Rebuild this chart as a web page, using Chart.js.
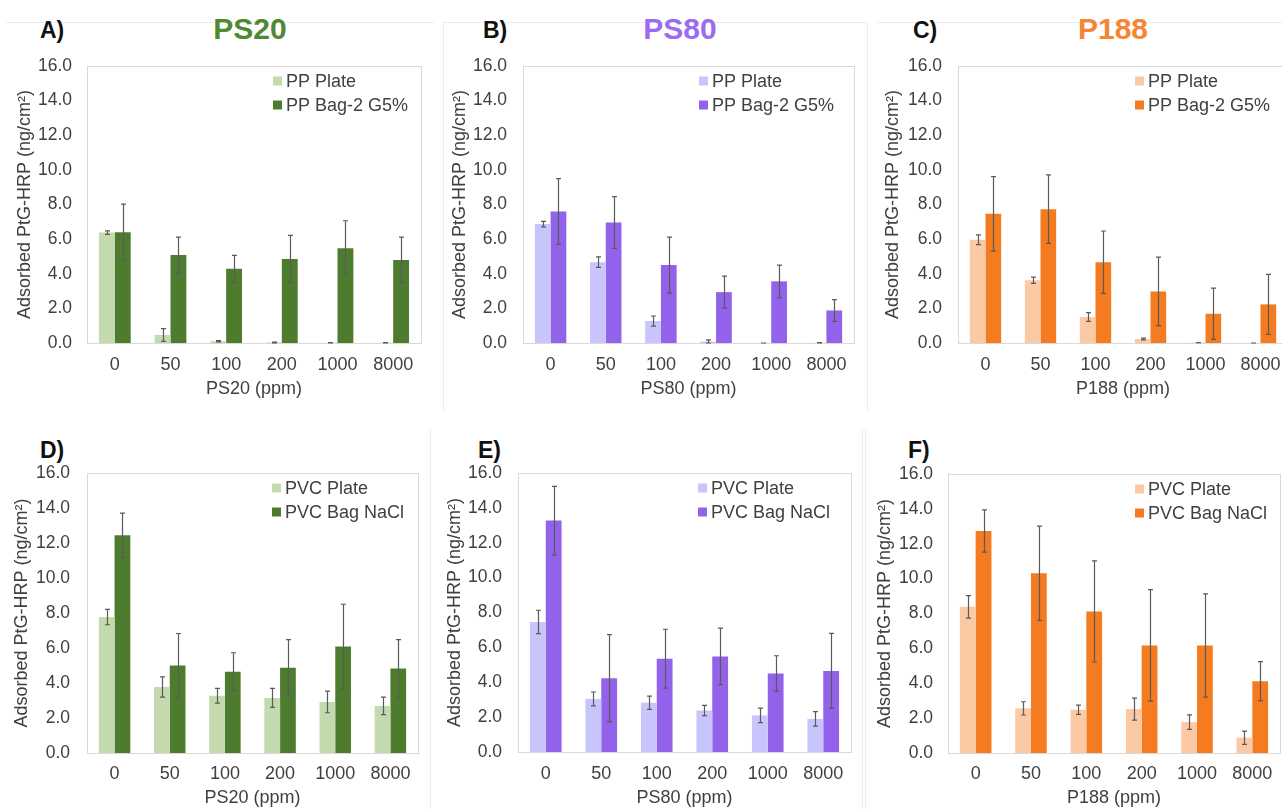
<!DOCTYPE html>
<html>
<head>
<meta charset="utf-8">
<script src="https://cdn.jsdelivr.net/npm/chart.js@4.4.1/dist/chart.umd.min.js"></script>
<style>
  html, body { margin: 0; padding: 0; background: #fff; }
  body { width: 1282px; height: 809px; position: relative; overflow: hidden; font-family: "Liberation Sans", Arial, sans-serif; }
  .cv { position: absolute; }
  .title { position: absolute; font-weight: bold; font-size: 30px; transform: translate(-50%, -50%); white-space: nowrap; }
  .tag { position: absolute; font-weight: bold; font-size: 23px; color: #111; transform: translateY(-50%); }
  .line { position: absolute; background: #ececec; }
</style>
</head>
<body>
<div class="line" style="left:6px;top:22px;width:428px;height:1px"></div>
<div class="line" style="left:443px;top:22px;width:1px;height:388px"></div>
<div class="line" style="left:443px;top:22px;width:424px;height:1px"></div>
<div class="line" style="left:867px;top:22px;width:1px;height:388px"></div>
<div class="line" style="left:877px;top:22px;width:405px;height:1px"></div>
<div class="line" style="left:430px;top:430px;width:1px;height:379px"></div>
<div class="line" style="left:862px;top:430px;width:1px;height:379px"></div>
<div class="line" style="left:865px;top:430px;width:1px;height:379px"></div>

<div class="tag" style="left:40px;top:30px">A)</div>
<div class="tag" style="left:483px;top:30px">B)</div>
<div class="tag" style="left:913px;top:30px">C)</div>
<div class="tag" style="left:40px;top:450px">D)</div>
<div class="tag" style="left:478px;top:450px">E)</div>
<div class="tag" style="left:908px;top:450px">F)</div>
<div class="title" style="left:250px;top:29px;color:#4f8a32">PS20</div>
<div class="title" style="left:680px;top:29px;color:#9b6cf0">PS80</div>
<div class="title" style="left:1113px;top:29px;color:#f58634">P188</div>

<canvas id="chartA" class="cv"></canvas>
<canvas id="chartB" class="cv"></canvas>
<canvas id="chartC" class="cv"></canvas>
<canvas id="chartD" class="cv"></canvas>
<canvas id="chartE" class="cv"></canvas>
<canvas id="chartF" class="cv"></canvas>

<script>
// surfactant concentrations (ppm)
const doses = ['0', '50', '100', '200', '1000', '8000'];
const yTicks = [0, 2, 4, 6, 8, 10, 12, 14, 16];

// PP, PS20
const ppPlatePS20 = [6.38, 0.46, 0.10, 0.03, 0.01, 0.01];
const ppPlatePS20Err = [0.10, 0.37, 0.04, 0.02, 0.01, 0.01];
const ppBagPS20 = [6.40, 5.08, 4.29, 4.85, 5.48, 4.79];
const ppBagPS20Err = [1.62, 1.04, 0.77, 1.37, 1.58, 1.33];

// PP, PS80
const ppPlatePS80 = [6.87, 4.67, 1.27, 0.08, 0.00, 0.01];
const ppPlatePS80Err = [0.16, 0.30, 0.29, 0.10, 0.00, 0.01];
const ppBagPS80 = [7.60, 6.96, 4.50, 2.94, 3.56, 1.88];
const ppBagPS80Err = [1.90, 1.50, 1.62, 0.92, 0.94, 0.63];

// PP, P188
const ppPlateP188 = [5.96, 3.62, 1.50, 0.23, 0.02, 0.00];
const ppPlateP188Err = [0.28, 0.18, 0.25, 0.05, 0.00, 0.00];
const ppBagP188 = [7.46, 7.73, 4.67, 2.98, 1.69, 2.23];
const ppBagP188Err = [2.15, 1.98, 1.80, 1.98, 1.48, 1.73];

// PVC, PS20
const pvcPlatePS20 = [7.77, 3.77, 3.27, 3.15, 2.92, 2.69];
const pvcPlatePS20Err = [0.44, 0.58, 0.42, 0.54, 0.62, 0.50];
const pvcBagPS20 = [12.44, 5.00, 4.65, 4.87, 6.08, 4.83];
const pvcBagPS20Err = [1.27, 1.83, 1.08, 1.61, 2.42, 1.65];

// PVC, PS80
const pvcPlatePS80 = [7.46, 3.04, 2.83, 2.38, 2.10, 1.90];
const pvcPlatePS80Err = [0.67, 0.40, 0.38, 0.29, 0.42, 0.42];
const pvcBagPS80 = [13.27, 4.23, 5.35, 5.48, 4.50, 4.65];
const pvcBagPS80Err = [1.96, 2.50, 1.69, 1.62, 1.02, 2.15];

// PVC, P188
const pvcPlateP188 = [8.38, 2.56, 2.48, 2.52, 1.77, 0.88];
const pvcPlateP188Err = [0.65, 0.38, 0.27, 0.63, 0.42, 0.38];
const pvcBagP188 = [12.73, 10.31, 8.12, 6.17, 6.17, 4.12];
const pvcBagP188Err = [1.21, 2.70, 2.90, 3.20, 2.96, 1.12];

const FONT = '"Liberation Sans", Arial, sans-serif';
const TEXT = '#404040';

// grey frame round the plot area
const framePlugin = {
    id: 'frame',
    beforeDatasetsDraw(chart) {
        const a = chart.chartArea, ctx = chart.ctx;
        ctx.save();
        ctx.strokeStyle = '#d9d9d9';
        ctx.lineWidth = 1;
        ctx.strokeRect(Math.round(a.left) + 0.5, Math.round(a.top) + 0.5,
            Math.round(a.right - a.left), Math.round(a.bottom - a.top));
        ctx.restore();
    }
};

// error bars from each dataset's "errors" array
const errorBarPlugin = {
    id: 'errorBars',
    afterDatasetsDraw(chart) {
        const ctx = chart.ctx, yScale = chart.scales.y;
        ctx.save();
        ctx.strokeStyle = '#5a5a5a';
        ctx.lineWidth = 1.2;
        chart.data.datasets.forEach((ds, i) => {
            chart.getDatasetMeta(i).data.forEach((bar, j) => {
                const v = ds.data[j], e = ds.errors[j];
                const yTop = yScale.getPixelForValue(v + e);
                const yBot = yScale.getPixelForValue(Math.max(v - e, 0));
                const x = Math.round(bar.x) + 0.5;
                ctx.beginPath();
                ctx.moveTo(x, yTop); ctx.lineTo(x, yBot);
                ctx.moveTo(x - 2.5, yTop); ctx.lineTo(x + 2.5, yTop);
                ctx.moveTo(x - 2.5, yBot); ctx.lineTo(x + 2.5, yBot);
                ctx.stroke();
            });
        });
        ctx.restore();
    }
};

// legend inside the top right corner of the plot
const insideLegend = {
    id: 'insideLegend',
    afterDraw(chart, args, opts) {
        const ctx = chart.ctx, a = chart.chartArea;
        ctx.save();
        ctx.font = '18px ' + FONT;
        ctx.textBaseline = 'middle';
        chart.data.datasets.forEach((ds, i) => {
            const x = a.right - opts.offset;
            const y = a.top + 15 + i * 24;
            ctx.fillStyle = ds.backgroundColor;
            ctx.fillRect(x, y - 4.5, 9, 9);
            ctx.fillStyle = TEXT;
            ctx.fillText(ds.label, x + 13, y + 1);
        });
        ctx.restore();
    }
};

function makePanel(id, p) {
    const canvas = document.getElementById(id);
    const top = p.plot.t - 12;
    const bottom = p.xTitleY + 14;
    const width = p.plot.r - p.origin + 12;
    const height = bottom - top;
    canvas.style.left = p.origin + 'px';
    canvas.style.top = top + 'px';
    canvas.style.width = width + 'px';
    canvas.style.height = height + 'px';
    canvas.width = width;
    canvas.height = height;

    new Chart(canvas.getContext('2d'), {
        type: 'bar',
        data: {
            labels: doses,
            datasets: [
                { label: p.names[0], data: p.plate, errors: p.plateErr, backgroundColor: p.colors[0] },
                { label: p.names[1], data: p.bag, errors: p.bagErr, backgroundColor: p.colors[1] }
            ]
        },
        options: {
            responsive: false,
            animation: false,
            devicePixelRatio: 1,
            layout: { padding: { top: 12, right: 12, left: 0, bottom: 0 } },
            datasets: { bar: { categoryPercentage: 0.57, barPercentage: 1.0, borderWidth: 0 } },
            scales: {
                x: {
                    grid: { display: false, drawTicks: false },
                    border: { display: false },
                    ticks: { color: TEXT, font: { family: FONT, size: 18 }, padding: p.xLabelY - p.plot.b - 10.8, maxRotation: 0 },
                    title: { display: true, text: p.xTitle, color: TEXT, font: { family: FONT, size: 18 }, padding: { top: 0, bottom: 3.2 } },
                    afterFit(scale) { scale.height = bottom - p.plot.b; }
                },
                y: {
                    min: 0, max: 16,
                    grid: { display: false, drawTicks: false },
                    border: { display: false },
                    afterBuildTicks(scale) { scale.ticks = yTicks.map(v => ({ value: v })); },
                    ticks: {
                        color: TEXT, font: { family: FONT, size: 17.5 },
                        padding: p.plot.l - p.tickRight,
                        callback: v => v.toFixed(1)
                    },
                    title: {
                        display: true, text: 'Adsorbed PtG-HRP (ng/cm²)', color: TEXT,
                        font: { family: FONT, size: 18 },
                        padding: { top: p.yTitleX - p.origin - 10.8, bottom: 0 }
                    },
                    afterFit(scale) {
                        scale.width = p.plot.l - p.origin;
                        scale.paddingTop = 10;
                        scale.paddingBottom = 10;
                    }
                }
            },
            plugins: {
                legend: { display: false },
                tooltip: { enabled: false },
                insideLegend: { offset: p.legendOff }
            }
        },
        plugins: [framePlugin, errorBarPlugin, insideLegend]
    });
}

const greens = ['#c3d9ae', '#4e7c2e'];
const purples = ['#c8c5fd', '#9262ea'];
const oranges = ['#fcc9a5', '#f47b20'];
const ppNames = ['PP Plate', 'PP Bag-2 G5%'];
const pvcNames = ['PVC Plate', 'PVC Bag NaCl'];

makePanel('chartA', { origin: 0, plot: { l: 87, r: 421, t: 66, b: 343 }, tickRight: 72, yTitleX: 25, xLabelY: 365, xTitleY: 389,
    xTitle: 'PS20 (ppm)', names: ppNames, colors: greens, legendOff: 148,
    plate: ppPlatePS20, plateErr: ppPlatePS20Err, bag: ppBagPS20, bagErr: ppBagPS20Err });
makePanel('chartB', { origin: 430, plot: { l: 523, r: 854, t: 66, b: 343 }, tickRight: 507, yTitleX: 460, xLabelY: 365, xTitleY: 389,
    xTitle: 'PS80 (ppm)', names: ppNames, colors: purples, legendOff: 155,
    plate: ppPlatePS80, plateErr: ppPlatePS80Err, bag: ppBagPS80, bagErr: ppBagPS80Err });
makePanel('chartC', { origin: 850, plot: { l: 958, r: 1288, t: 66, b: 343 }, tickRight: 942, yTitleX: 893, xLabelY: 365, xTitleY: 389,
    xTitle: 'P188 (ppm)', names: ppNames, colors: oranges, legendOff: 153,
    plate: ppPlateP188, plateErr: ppPlateP188Err, bag: ppBagP188, bagErr: ppBagP188Err });
makePanel('chartD', { origin: 0, plot: { l: 87, r: 418, t: 473, b: 753 }, tickRight: 70, yTitleX: 22, xLabelY: 774, xTitleY: 798,
    xTitle: 'PS20 (ppm)', names: pvcNames, colors: greens, legendOff: 146,
    plate: pvcPlatePS20, plateErr: pvcPlatePS20Err, bag: pvcBagPS20, bagErr: pvcBagPS20Err });
makePanel('chartE', { origin: 430, plot: { l: 518, r: 851, t: 473, b: 752 }, tickRight: 502, yTitleX: 455, xLabelY: 774, xTitleY: 798,
    xTitle: 'PS80 (ppm)', names: pvcNames, colors: purples, legendOff: 153,
    plate: pvcPlatePS80, plateErr: pvcPlatePS80Err, bag: pvcBagPS80, bagErr: pvcBagPS80Err });
makePanel('chartF', { origin: 850, plot: { l: 948, r: 1280, t: 474, b: 753 }, tickRight: 933, yTitleX: 885, xLabelY: 774, xTitleY: 798,
    xTitle: 'P188 (ppm)', names: pvcNames, colors: oranges, legendOff: 145,
    plate: pvcPlateP188, plateErr: pvcPlateP188Err, bag: pvcBagP188, bagErr: pvcBagP188Err });
</script>
</body>
</html>
